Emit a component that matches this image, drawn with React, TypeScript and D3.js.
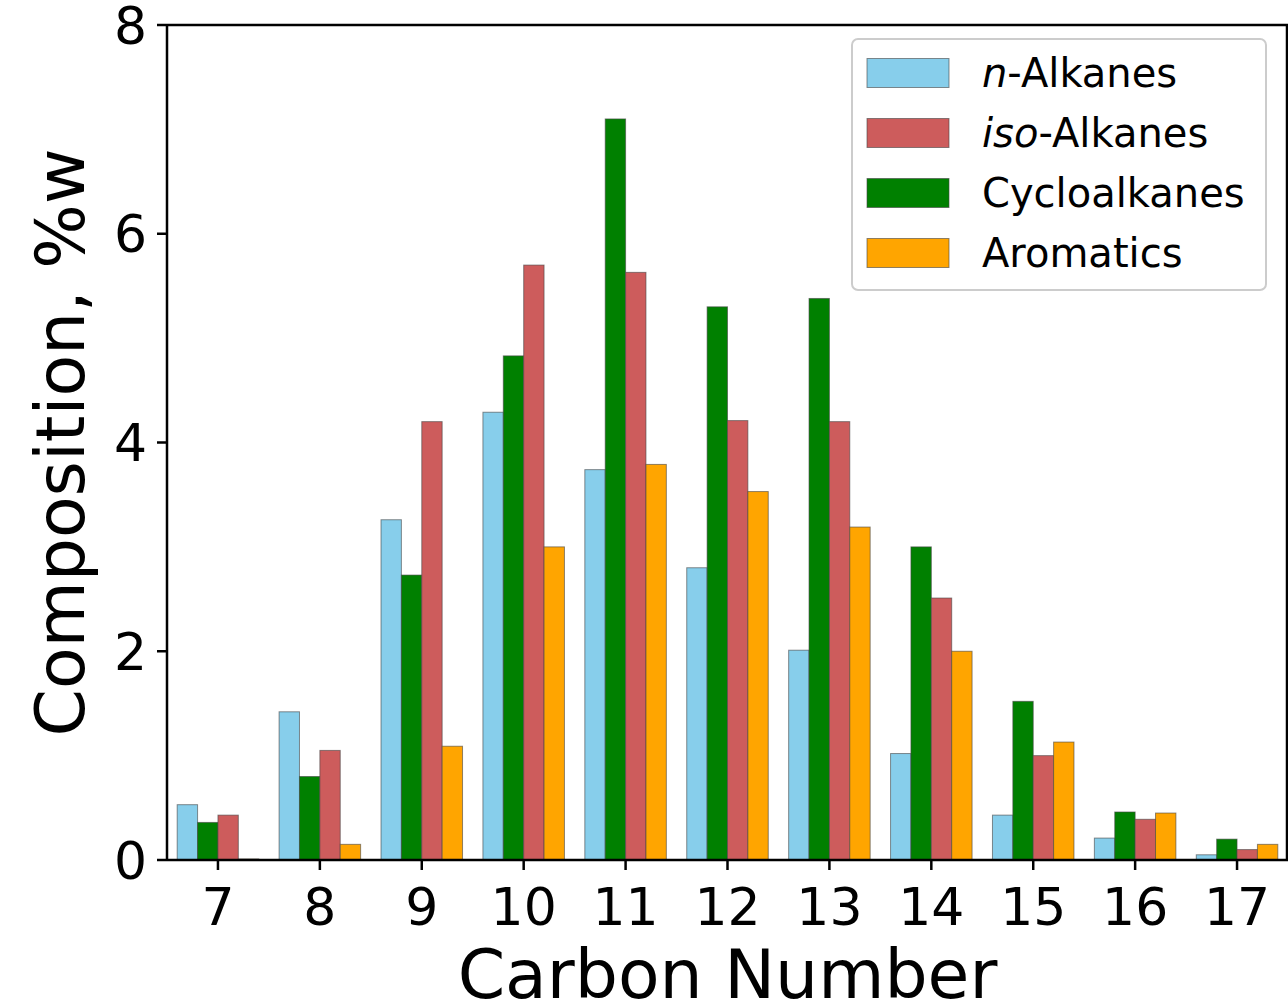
import React from "react";
import * as d3 from "d3";

const categories = [7, 8, 9, 10, 11, 12, 13, 14, 15, 16, 17];
const nAlkanes = [0.53, 1.42, 3.26, 4.29, 3.74, 2.8, 2.01, 1.02, 0.43, 0.21, 0.05];
const cycloalkanes = [0.36, 0.8, 2.73, 4.83, 7.1, 5.3, 5.38, 3.0, 1.52, 0.46, 0.2];
const isoAlkanes = [0.43, 1.05, 4.2, 5.7, 5.63, 4.21, 4.2, 2.51, 1.0, 0.39, 0.1];
const aromatics = [0.01, 0.15, 1.09, 3.0, 3.79, 3.53, 3.19, 2.0, 1.13, 0.45, 0.15];
const yTicks = [0, 2, 4, 6, 8];

const seriesOrder = [
  { key: "n", values: nAlkanes, color: "#87CEEB" },
  { key: "cyclo", values: cycloalkanes, color: "#008000" },
  { key: "iso", values: isoAlkanes, color: "#CD5C5C" },
  { key: "arom", values: aromatics, color: "#FFA500" },
];

const legendItems = [
  { color: "#87CEEB", italic: "n", rest: "-Alkanes" },
  { color: "#CD5C5C", italic: "iso", rest: "-Alkanes" },
  { color: "#008000", italic: "", rest: "Cycloalkanes" },
  { color: "#FFA500", italic: "", rest: "Aromatics" },
];

export default function App() {
  const W = 1288, H = 1004;
  const left = 167, right = 1288, top = 25, bottom = 860;
  const x = d3.scaleLinear().domain([6.5, 17.5]).range([left, right]);
  const y = d3.scaleLinear().domain([0, 8]).range([bottom, top]);
  const barW = 0.2;
  const font = "DejaVu Sans, sans-serif";

  return (
    <svg width={W} height={H} style={{ position: "absolute", left: 0, top: 0 }} fontFamily={font}>
      <rect x={0} y={0} width={W} height={H} fill="white" />
      {seriesOrder.map((s, si) =>
        categories.map((c, i) => {
          const x0 = x(c - 0.4 + si * barW);
          const x1 = x(c - 0.4 + (si + 1) * barW);
          return (
            <rect
              key={s.key + c}
              x={x0}
              y={y(s.values[i])}
              width={x1 - x0}
              height={y(0) - y(s.values[i])}
              fill={s.color}
              stroke="#444"
              strokeOpacity={0.6}
              strokeWidth={1}
            />
          );
        })
      )}
      {/* spines */}
      <line x1={left} x2={left} y1={top} y2={bottom} stroke="black" strokeWidth={2.5} />
      <line x1={left} x2={right} y1={top} y2={top} stroke="black" strokeWidth={2.5} />
      <line x1={right - 1} x2={right - 1} y1={top} y2={bottom} stroke="black" strokeWidth={2.5} />
      <line x1={left} x2={right} y1={bottom} y2={bottom} stroke="black" strokeWidth={2.5} />
      {/* y ticks */}
      {yTicks.map((t) => (
        <g key={"y" + t}>
          <line x1={left - 10} x2={left} y1={y(t)} y2={y(t)} stroke="black" strokeWidth={2.5} />
          <text x={left - 20} y={y(t)} dy="0.36em" textAnchor="end" fontSize={52}>
            {t}
          </text>
        </g>
      ))}
      {/* x ticks */}
      {categories.map((c) => (
        <g key={"x" + c}>
          <line x1={x(c)} x2={x(c)} y1={bottom} y2={bottom + 10} stroke="black" strokeWidth={2.5} />
          <text x={x(c)} y={925} textAnchor="middle" fontSize={52}>
            {c}
          </text>
        </g>
      ))}
      <text x={(left + right) / 2} y={998} textAnchor="middle" fontSize={68}>
        Carbon Number
      </text>
      <text
        transform={`translate(84, ${(top + bottom) / 2}) rotate(-90)`}
        textAnchor="middle"
        fontSize={68}
      >
        Composition, %w
      </text>
      {/* legend */}
      <rect x={852} y={39} width={414} height={251} rx={6} fill="white" fillOpacity={0.8} stroke="#cccccc" strokeWidth={2} />
      {legendItems.map((it, i) => {
        const cy = 73 + i * 60;
        return (
          <g key={"l" + i}>
            <rect x={867} y={cy - 14.5} width={82} height={29} fill={it.color} stroke="#444" strokeOpacity={0.6} strokeWidth={1} />
            <text x={982} y={cy} dy="0.36em" fontSize={40}>
              {it.italic && <tspan fontStyle="italic">{it.italic}</tspan>}
              <tspan>{it.rest}</tspan>
            </text>
          </g>
        );
      })}
    </svg>
  );
}
